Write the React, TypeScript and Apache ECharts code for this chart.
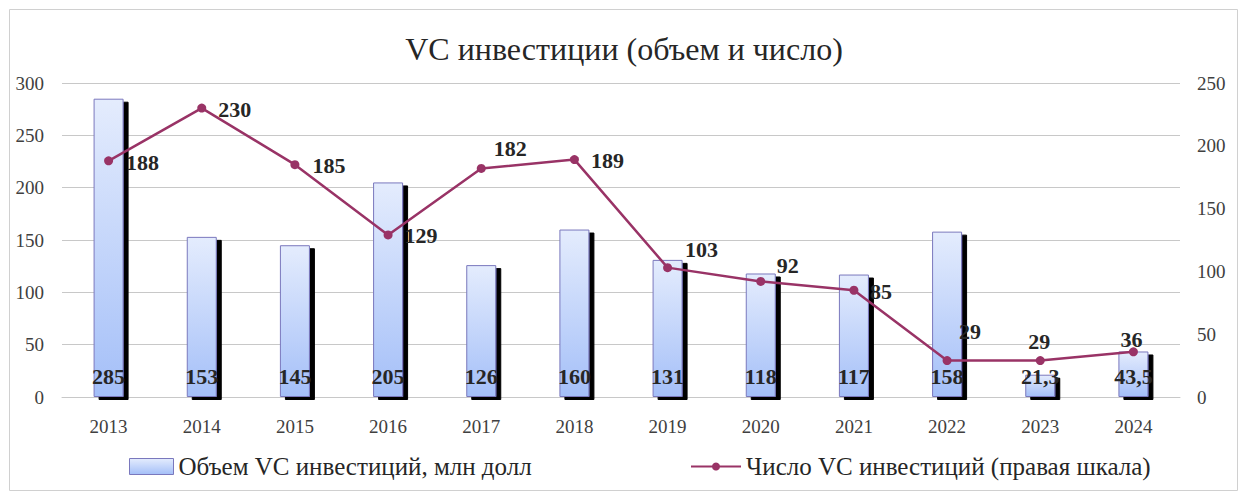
import React, { useEffect, useRef } from "react";
import * as echarts from "echarts";

const years = ["2013", "2014", "2015", "2016", "2017", "2018", "2019", "2020", "2021", "2022", "2023", "2024"];
const volumeValues = [285, 153, 145, 205, 126, 160, 131, 118, 117, 158, 21.3, 43.5];
const countValues = [188, 230, 185, 129, 182, 189, 103, 92, 85, 29, 29, 36];
const leftTicks = { min: 0, max: 300, interval: 50 };
const rightTicks = { min: 0, max: 250, interval: 50 };

// label placement for the line labels (offset from the point, px)
const countLabelOffsets: [number, number][] = [
  [34, 2], [33, 1], [34, 1], [33, 1], [29, -20], [33, 1],
  [34, -18], [27, -16], [27, 1], [23, -29], [-1, -19], [-2, -12],
];

const FONT = '"Liberation Serif", "Times New Roman", serif';

export default function App() {
  const ref = useRef<HTMLDivElement>(null);

  useEffect(() => {
    if (!ref.current) return;
    const chart = echarts.init(ref.current, null, { renderer: "svg" });
    const barGradient = new echarts.graphic.LinearGradient(0, 0, 0, 1, [
      { offset: 0, color: "#e4ecfd" },
      { offset: 1, color: "#a4bff8" },
    ]);
    const legendBarGradient = new echarts.graphic.LinearGradient(0, 0, 0, 1, [
      { offset: 0, color: "#e4ecfd" },
      { offset: 1, color: "#a4bff8" },
    ]);
    chart.setOption({
      animation: false,
      backgroundColor: "#ffffff",
      textStyle: { fontFamily: FONT },
      graphic: [
        {
          type: "rect",
          shape: { x: 1.5, y: 1.5, width: 1228, height: 481 },
          style: { fill: "none", stroke: "#d0d0d0", lineWidth: 1 },
          silent: true,
        },
      ],
      title: {
        text: "VC инвестиции (объем и число)",
        left: "center",
        top: 20,
        textStyle: { fontFamily: FONT, fontSize: 32, fontWeight: "normal", color: "#262626" },
      },
      legend: [
        {
          data: [
            {
              name: "Объем VC инвестиций, млн долл",
              icon: "rect",
              itemStyle: {
                color: legendBarGradient,
                borderColor: "#7a78bd",
                borderWidth: 1,
                shadowBlur: 0,
                shadowOffsetX: 0,
                shadowOffsetY: 0,
                shadowColor: "transparent",
              },
            },
          ],
          left: 116,
          top: 441,
          itemWidth: 44,
          itemHeight: 16,
          itemGap: 10,
          textStyle: { fontFamily: FONT, fontSize: 25, color: "#262626" },
        },
        {
          data: ["Число VC инвестиций (правая шкала)"],
          left: 677,
          top: 441,
          itemWidth: 50,
          itemHeight: 10,
          itemGap: 10,
          textStyle: { fontFamily: FONT, fontSize: 25, color: "#262626" },
        },
      ],
      grid: { left: 54, right: 60, top: 75, bottom: 96, containLabel: false },
      xAxis: {
        type: "category",
        data: years,
        axisLine: { show: true, lineStyle: { color: "#c8c8c8", width: 1 } },
        axisTick: { show: false },
        axisLabel: { fontFamily: FONT, fontSize: 19, color: "#404040", margin: 20 },
      },
      yAxis: [
        {
          type: "value",
          min: leftTicks.min,
          max: leftTicks.max,
          interval: leftTicks.interval,
          axisLine: { show: false },
          axisTick: { show: false },
          splitLine: { lineStyle: { color: "#c8c8c8", width: 1 } },
          axisLabel: { fontFamily: FONT, fontSize: 19, color: "#404040", margin: 18 },
        },
        {
          type: "value",
          min: rightTicks.min,
          max: rightTicks.max,
          interval: rightTicks.interval,
          axisLine: { show: false },
          axisTick: { show: false },
          splitLine: { show: false },
          axisLabel: { fontFamily: FONT, fontSize: 19, color: "#404040", margin: 17 },
        },
      ],
      series: [
        {
          name: "Объем VC инвестиций, млн долл",
          type: "bar",
          yAxisIndex: 0,
          data: volumeValues,
          barWidth: 30,
          itemStyle: {
            color: barGradient,
            borderColor: "#7a78bd",
            borderWidth: 1,
            shadowColor: "#000000",
            shadowBlur: 0,
            shadowOffsetX: 5,
            shadowOffsetY: 3,
          },
          label: {
            show: true,
            position: "insideBottom",
            distance: 10,
            fontFamily: FONT,
            fontSize: 22,
            fontWeight: "bold",
            color: "#262626",
            formatter: (p: any) => String(p.value).replace(".", ","),
          },
          z: 2,
        },
        {
          name: "Число VC инвестиций (правая шкала)",
          type: "line",
          yAxisIndex: 1,
          data: countValues.map((v, i) => ({
            value: v,
            label: { offset: countLabelOffsets[i] },
          })),
          symbol: "circle",
          symbolSize: 9,
          lineStyle: { color: "#993366", width: 2.5 },
          itemStyle: { color: "#993366" },
          label: {
            show: true,
            position: "inside",
            fontFamily: FONT,
            fontSize: 22,
            fontWeight: "bold",
            color: "#262626",
          },
          z: 5,
        },
      ],
    });
    return () => chart.dispose();
  }, []);

  return <div ref={ref} style={{ width: 1232, height: 485 }} />;
}
